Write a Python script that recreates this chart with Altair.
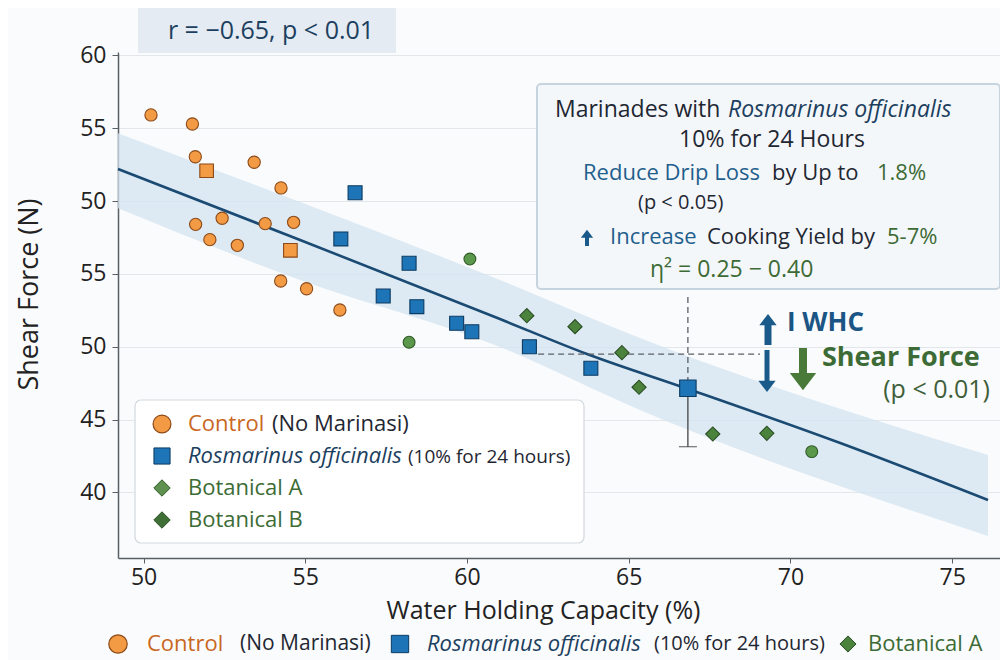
import altair as alt
import pandas as pd

# ---------------- data ----------------
control_x = [50.23, 51.51, 51.60, 53.42, 54.25, 51.61, 52.43, 53.76, 54.64, 52.05, 52.90, 54.24, 55.04, 56.07]
control_y = [55.91, 55.29, 53.04, 52.66, 50.90, 48.40, 48.82, 48.45, 48.54, 47.35, 46.96, 44.51, 43.98, 42.52]
control_sq_x = [51.95, 54.54]
control_sq_y = [52.08, 46.62]

rosm_x = [56.54, 56.10, 58.21, 57.41, 58.45, 59.68, 60.15, 61.93, 63.83]
rosm_y = [50.57, 47.40, 45.73, 43.48, 42.75, 41.61, 41.03, 40.00, 38.52]
rosm_hl_x = [66.83]
rosm_hl_y = [37.15]
rosm_hl_low = [33.14]

botA_x = [60.09, 58.21, 70.66]
botA_y = [46.02, 40.31, 32.80]
botB_x = [61.85, 63.34, 64.79, 65.32, 67.60, 69.27]
botB_y = [42.13, 41.38, 39.59, 37.22, 34.01, 34.06]

fit_x = [49.21, 54.84, 61.02, 63.71, 66.84, 71.54, 76.11]
fit_y = [52.20, 47.33, 41.90, 39.50, 37.10, 33.39, 29.48]
band_x = [49.21, 54.84, 61.02, 65.35, 76.11]
band_hi = [54.66, 49.93, 44.58, 40.60, 32.57]
band_lo = [49.51, 44.58, 39.98, 35.66, 27.01]

guide_x = [66.83]          # vertical dashed guide
guide_y = [39.50]          # horizontal dashed guide
guide_x_from = [62.20]
guide_x_to = [69.06]
guide_y_top = [43.41]

x_ticks = [50, 55, 60, 65, 70, 75]
y_tick_values = [60, 55, 50, 45, 40, 35, 30]
y_tick_labels = ["60", "55", "50", "55", "50", "45", "40"]

# ---------------- styling ----------------
FONT = "Open Sans"
BG = "#fafbfc"
DARK = "#1f2733"
NAVY = "#1d3f5f"
BLUE_TXT = "#1f5f8d"
GREEN_TXT = "#3d6b35"
ORANGE_TXT = "#c9671e"
OR_F, OR_S = "#f39a45", "#8c4a17"
BL_F, BL_S = "#1d74b6", "#0c3b62"
GC_F, GC_S = "#5c984b", "#2e5a27"
GD_F, GD_S = "#4b833c", "#2b4f24"
LINE = "#1b4a73"
BAND = "#d3e4f1"
ARROW_BLUE = "#1a5a8a"
ARROW_GREEN = "#4a7a3a"

X0, Y0 = 118, 52  # plot origin on the page
W, H = 882, 506
XD = [49.21, 76.48]
YD = [25.5, 60.23]

xs = alt.Scale(domain=XD, nice=False, zero=False)
ys = alt.Scale(domain=YD, nice=False, zero=False)

label_expr = "".join(f"datum.value == {v} ? '{l}' : " for v, l in zip(y_tick_values, y_tick_labels)) + "''"

x_axis = alt.Axis(values=x_ticks, title="Water Holding Capacity (%)", grid=False, tickSize=5,
                  labelPadding=3, titleY=52, titleX=425, titleBaseline="middle", titleFontSize=25)
y_axis = alt.Axis(values=y_tick_values, labelExpr=label_expr, title="Shear Force (N)", grid=True,
                  tickSize=6, labelPadding=6, titleX=-89, titleY=242, titleBaseline="middle",
                  titleFontSize=27)


def px(x):
    return x - X0


def py(y):
    return y - Y0


def one(s="x"):
    return pd.DataFrame({"t": [s]})


def T(s, x, y, size=20, color=DARK, align="left", weight="normal", style="normal"):
    return alt.Chart(one(s)).mark_text(
        align=align, baseline="middle", fontSize=size, color=color,
        fontWeight=weight, fontStyle=style, font=FONT
    ).encode(text="t:N", x=alt.value(px(x)), y=alt.value(py(y)))


def R(x1, y1, x2, y2, fill, stroke=None, sw=1, radius=0, opacity=1):
    kw = dict(fill=fill, cornerRadius=radius, opacity=opacity)
    if stroke:
        kw.update(stroke=stroke, strokeWidth=sw)
    return alt.Chart(one()).mark_rect(**kw).encode(
        x=alt.value(px(x1)), x2=alt.value(px(x2)), y=alt.value(py(y1)), y2=alt.value(py(y2)))


def S(x, y, shape, size, fill, stroke=None, sw=1):
    kw = dict(shape=shape, size=size, filled=True, fill=fill, opacity=1)
    if stroke:
        kw.update(stroke=stroke, strokeWidth=sw)
    else:
        kw.update(strokeWidth=0)
    return alt.Chart(one()).mark_point(**kw).encode(x=alt.value(px(x)), y=alt.value(py(y)))


def V(x, y1, y2, color, width):
    return alt.Chart(one()).mark_rule(color=color, strokeWidth=width).encode(
        x=alt.value(px(x)), y=alt.value(py(y1)), y2=alt.value(py(y2)))


DOWN = "M-1,-0.6L1,-0.6L0,0.7Z"
UP = "M-1,0.6L1,0.6L0,-0.7Z"
DIAMOND = "diamond"

# ---------------- data layers ----------------
band_df = pd.DataFrame({"x": band_x, "lo": band_lo, "hi": band_hi})
fit_df = pd.DataFrame({"x": fit_x, "y": fit_y})

band = alt.Chart(band_df).mark_area(color=BAND, opacity=0.75, interpolate="monotone").encode(
    x=alt.X("x:Q", scale=xs, axis=x_axis), y=alt.Y("lo:Q", scale=ys, axis=y_axis), y2="hi:Q")
line = alt.Chart(fit_df).mark_line(color=LINE, strokeWidth=2.6, interpolate="monotone").encode(
    x=alt.X("x:Q", scale=xs), y=alt.Y("y:Q", scale=ys))


def pts(xv, yv, shape, size, fill, stroke):
    return alt.Chart(pd.DataFrame({"x": xv, "y": yv})).mark_point(
        shape=shape, size=size, filled=True, fill=fill, stroke=stroke, strokeWidth=1.1, opacity=1
    ).encode(x=alt.X("x:Q", scale=xs), y=alt.Y("y:Q", scale=ys))


ctrl = pts(control_x, control_y, "circle", 150, OR_F, OR_S)
ctrl_sq = pts(control_sq_x, control_sq_y, "square", 185, OR_F, OR_S)
rosm = pts(rosm_x, rosm_y, "square", 195, BL_F, BL_S)
botA = pts(botA_x, botA_y, "circle", 140, GC_F, GC_S)
botB = pts(botB_x, botB_y, DIAMOND, 200, GD_F, GD_S)

hl_df = pd.DataFrame({"x": rosm_hl_x, "y": rosm_hl_y, "lo": rosm_hl_low})
err = alt.Chart(hl_df).mark_rule(color="#444", strokeWidth=1.3).encode(
    x=alt.X("x:Q", scale=xs), y=alt.Y("y:Q", scale=ys), y2="lo:Q")
cap = alt.Chart(hl_df).mark_tick(color="#444", thickness=1.3, size=18, orient="horizontal").encode(
    x=alt.X("x:Q", scale=xs), y=alt.Y("lo:Q", scale=ys))
hl = pts(rosm_hl_x, rosm_hl_y, "square", 270, BL_F, BL_S)

g_df = pd.DataFrame({"x": guide_x, "y": guide_y, "x1": guide_x_from, "x2": guide_x_to,
                     "yt": guide_y_top, "yb": rosm_hl_y})
vdash = alt.Chart(g_df).mark_rule(color="#5a5f66", strokeWidth=1.3, strokeDash=[6, 4]).encode(
    x=alt.X("x:Q", scale=xs), y=alt.Y("yt:Q", scale=ys), y2="yb:Q")
hdash = alt.Chart(g_df).mark_rule(color="#5a5f66", strokeWidth=1.3, strokeDash=[6, 4]).encode(
    x=alt.X("x1:Q", scale=xs), x2="x2:Q", y=alt.Y("y:Q", scale=ys))

layers = [band, line, vdash, hdash, ctrl, ctrl_sq, rosm, botA, botB, err, cap, hl]

# ---------------- r box ----------------
layers += [R(119.5, 50, 405, 54.5, BG),
           R(138, 7, 396, 53, "#e4ebf2"),
           T("r = \u22120.65, p < 0.01", 271, 31, size=25, color=NAVY, align="center")]

# ---------------- annotation box ----------------
layers += [R(537, 84, 1000, 289, "#f4f7fa", stroke="#c6d4df", sw=2, radius=4)]
layers += [
    T("Marinades with", 555, 110, size=23, color=DARK),
    T("Rosmarinus officinalis", 728, 110, size=23, color=NAVY, style="italic"),
    T("10% for 24 Hours", 772, 140, size=23, color=DARK, align="center"),
    T("Reduce Drip Loss", 583, 173, size=22, color=BLUE_TXT),
    T("by Up to", 772, 173, size=22, color=DARK),
    T("1.8%", 877, 173, size=22, color=GREEN_TXT),
    T("(p < 0.05)", 638, 203, size=20, color=DARK),
    V(587, 246, 236, ARROW_BLUE, 4),
    S(587, 234, UP, 150, ARROW_BLUE),
    T("Increase", 610, 237, size=22, color=BLUE_TXT),
    T("Cooking Yield by", 707, 237, size=22, color=DARK),
    T("5-7%", 887, 237, size=22, color=GREEN_TXT),
    T("\u03b7\u00b2 = 0.25 \u2212 0.40", 650, 270, size=23, color=GREEN_TXT),
]

# ---------------- arrows ----------------
layers += [
    V(768, 345, 324, ARROW_BLUE, 7),
    S(768, 320, UP, 300, ARROW_BLUE),
    T("I WHC", 787, 323, size=26, color="#1a5585", weight="bold"),
    V(767, 350, 383, ARROW_BLUE, 5),
    S(767, 386, DOWN, 300, ARROW_BLUE),
    V(803, 348, 376, ARROW_GREEN, 8),
    S(803, 381, DOWN, 700, ARROW_GREEN),
    T("Shear Force", 822, 358, size=27, color=GREEN_TXT, weight="bold"),
    T("(p < 0.01)", 990, 390, size=25, color="#3f5f3a", align="right"),
]

# ---------------- inner legend ----------------
layers += [
    R(135, 400, 584, 543, "#ffffff", stroke="#d3d9df", sw=1.2, radius=6),
    S(162, 424, "circle", 320, OR_F, OR_S, 1.2),
    T("Control", 188, 424, size=22, color=ORANGE_TXT),
    T("(No Marinasi)", 272, 424, size=22, color=DARK),
    S(162, 456, "square", 260, BL_F, BL_S, 1),
    T("Rosmarinus officinalis", 188, 456, size=22, color=NAVY, style="italic"),
    T("(10% for 24 hours)", 408, 457, size=19, color=DARK),
    S(162, 488, DIAMOND, 270, "#5e9150", GC_S, 1),
    T("Botanical A", 188, 488, size=22, color=GREEN_TXT),
    S(162, 520, DIAMOND, 270, "#3f6e36", GD_S, 1),
    T("Botanical B", 188, 520, size=22, color=GREEN_TXT),
]

# ---------------- bottom legend ----------------
LY = 644
layers += [
    S(118, LY, "circle", 340, OR_F, OR_S, 1.2),
    T("Control", 147, LY, size=22, color=ORANGE_TXT),
    T("(No Marinasi)", 240, LY, size=21, color=DARK),
    S(400, LY, "square", 300, BL_F, BL_S, 1),
    T("Rosmarinus officinalis", 427, LY, size=22, color=NAVY, style="italic"),
    T("(10% for 24 hours)", 654, LY, size=20, color=DARK),
    S(848, LY, DIAMOND, 260, GD_F, GD_S, 1),
    T("Botanical A", 868, LY, size=22, color=GREEN_TXT),
]

chart = alt.layer(*layers).properties(
    width=W, height=H,
    padding={"left": 110, "top": 44, "right": 0, "bottom": 102},
    autosize=alt.AutoSizeParams(type="none"),
    background=BG,
).configure_view(stroke=None).configure_axis(
    labelFont=FONT, titleFont=FONT, labelFontSize=23,
    labelColor="#222", titleColor="#222", titleFontWeight="normal",
    domainColor="#5a5f66", domainWidth=1.5, tickColor="#5a5f66",
    gridColor="#e3e7eb", gridWidth=1.2,
)

chart.save("out.html", embed_options={"renderer": "svg", "actions": False})
